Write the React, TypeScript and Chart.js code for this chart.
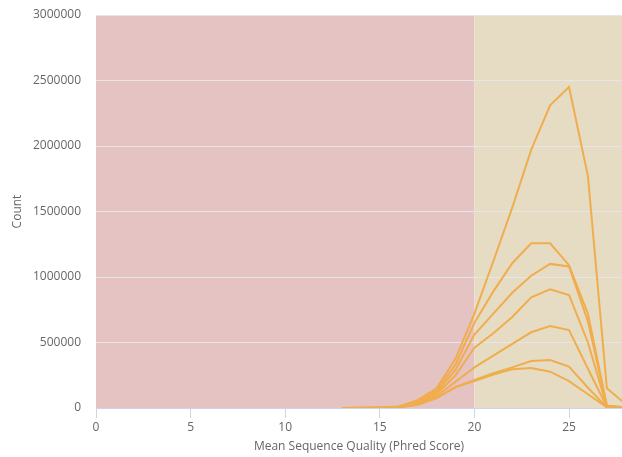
import React, { useEffect, useRef } from "react";
import { Chart, registerables } from "chart.js";

Chart.register(...registerables);

const phredScores = [13, 14, 15, 16, 17, 18, 19, 20, 21, 22, 23, 24, 25, 26, 27, 28];

const sampleA = [0, 1500, 4000, 12000, 60000, 150000, 375000, 720000, 1120000, 1530000, 1970000, 2310000, 2450000, 1770000, 150000, 30000];
const sampleB = [0, 1200, 3500, 10000, 52000, 135000, 330000, 650000, 890000, 1105000, 1257000, 1257000, 1090000, 720000, 20000, 4000];
const sampleC = [0, 1000, 3000, 9000, 45000, 120000, 290000, 560000, 720000, 880000, 1010000, 1100000, 1080000, 660000, 15000, 3000];
const sampleD = [0, 900, 2500, 8000, 38000, 105000, 250000, 460000, 570000, 695000, 845000, 906000, 863000, 500000, 10000, 2000];
const sampleE = [0, 700, 2000, 6000, 32000, 90000, 200000, 310000, 400000, 490000, 578000, 626000, 595000, 300000, 8000, 1500];
const sampleF = [0, 500, 1500, 5000, 25000, 75000, 160000, 215000, 265000, 310000, 359000, 366000, 316000, 155000, 5000, 1000];
const sampleG = [0, 500, 1500, 5000, 25000, 75000, 160000, 205000, 255000, 295000, 305000, 277000, 205000, 105000, 5000, 1000];

const allSeries = [sampleA, sampleB, sampleC, sampleD, sampleE, sampleF, sampleG];

const bands = [
  { from: 0, to: 20, color: "#e6c3c3" },
  { from: 20, to: 28, color: "#e6dcc3" },
];

const FONT = "'Open Sans', sans-serif";

const bandPlugin = {
  id: "bands",
  beforeDraw(chart: any) {
    const { ctx, chartArea, scales } = chart;
    const xs = scales.x;
    ctx.save();
    ctx.beginPath();
    ctx.rect(chartArea.left, chartArea.top, chartArea.right - chartArea.left, chartArea.bottom - chartArea.top);
    ctx.clip();
    for (const b of bands) {
      const x1 = xs.getPixelForValue(b.from);
      const x2 = xs.getPixelForValue(b.to);
      ctx.fillStyle = b.color;
      ctx.fillRect(x1, chartArea.top, x2 - x1, chartArea.bottom - chartArea.top);
    }
    ctx.restore();
  },
};

export default function App() {
  const ref = useRef<HTMLCanvasElement>(null);
  useEffect(() => {
    if (!ref.current) return;
    const chart = new Chart(ref.current, {
      type: "line",
      data: {
        datasets: allSeries.map((s) => ({
          data: phredScores.map((q, i) => ({ x: q, y: s[i] })),
          borderColor: "#f0ad4e",
          borderWidth: 2,
          pointRadius: 0,
          fill: false,
          tension: 0,
        })),
      },
      options: {
        animation: false,
        responsive: false,
        devicePixelRatio: 1,
        layout: { padding: { top: 15, right: 0, bottom: 0, left: 0 } },
        plugins: { legend: { display: false }, tooltip: { enabled: false } },
        scales: {
          x: {
            type: "linear",
            min: 0,
            max: 27.8,
            afterFit: (s: any) => {
              s.height = 49;
              s.paddingLeft = 0;
              s.paddingRight = 0;
            },
            ticks: {
              stepSize: 5,
              includeBounds: false,
              padding: 2,
              color: "#666666",
              font: { family: FONT, size: 12 },
              maxRotation: 0,
            },
            grid: { drawOnChartArea: false, drawTicks: true, tickLength: 10, color: "#ccd6eb" },
            border: { display: true, color: "#ccd6eb" },
            title: {
              display: true,
              text: "Mean Sequence Quality (Phred Score)",
              color: "#666666",
              font: { family: FONT, size: 12 },
              padding: { top: 0, bottom: 3 },
            },
          },
          y: {
            min: 0,
            max: 3000000,
            afterFit: (s: any) => {
              s.width = 96;
              s.paddingTop = 0;
              s.paddingBottom = 0;
            },
            ticks: {
              stepSize: 500000,
              padding: 15,
              color: "#666666",
              font: { family: FONT, size: 12 },
              callback: (v: any) => String(v),
            },
            grid: { drawTicks: false, tickLength: 0, color: "#e6e6e6" },
            border: { display: false },
            title: {
              display: true,
              text: "Count",
              color: "#666666",
              font: { family: FONT, size: 12 },
              padding: { top: 10, bottom: 0 },
            },
          },
        },
      },
      plugins: [bandPlugin],
    });
    return () => chart.destroy();
  }, []);
  return (
    <div style={{ position: "fixed", left: 0, top: 0, width: 622, height: 457, background: "#fff" }}>
      <canvas ref={ref} width={622} height={457} />
    </div>
  );
}
